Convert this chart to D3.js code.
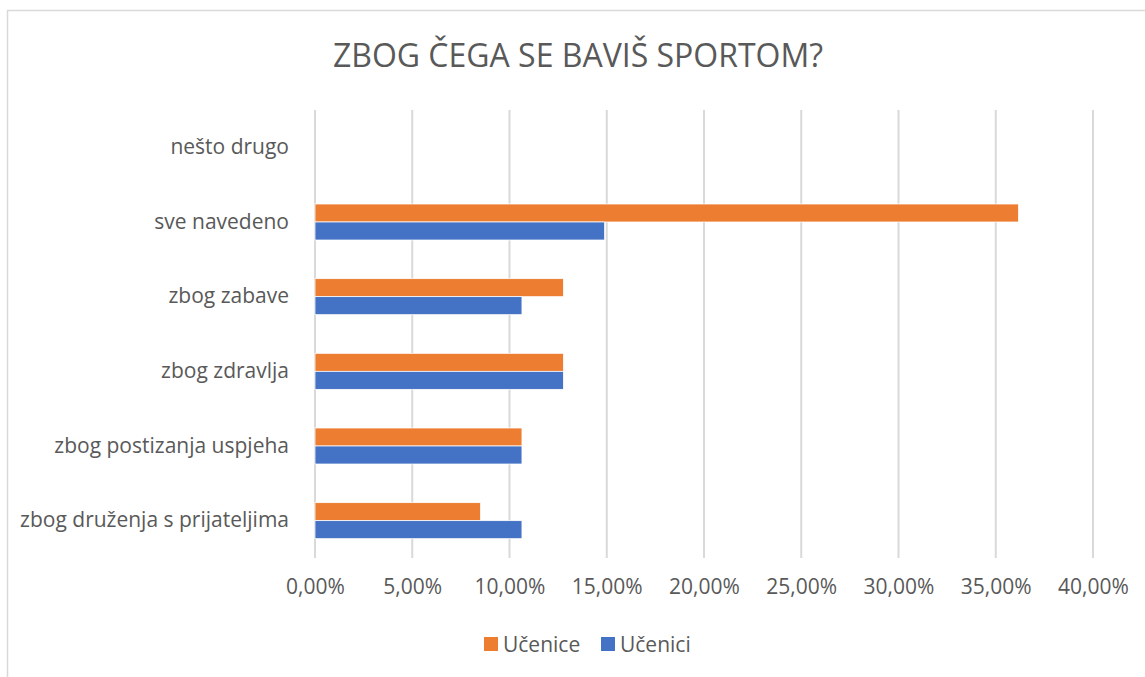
<!DOCTYPE html>
<html>
<head>
<meta charset="utf-8">
<script src="https://cdn.jsdelivr.net/npm/d3@7"></script>
<style>
  body { margin: 0; background: #fff; }
  svg text { font-family: "Open Sans", sans-serif; fill: #595959; }
</style>
</head>
<body>
<svg id="chart" width="1145" height="677"></svg>
<script>
// categories top to bottom
let categories = ['nešto drugo', 'sve navedeno', 'zbog zabave', 'zbog zdravlja',
                  'zbog postizanja uspjeha', 'zbog druženja s prijateljima'];
let seriesNames = ['Učenice', 'Učenici'];
let ucenice = [0, 0.3617, 0.1277, 0.1277, 0.1064, 0.0851];
let ucenici = [0, 0.1489, 0.1064, 0.1277, 0.1064, 0.1064];
let xTicks = [0, 0.05, 0.10, 0.15, 0.20, 0.25, 0.30, 0.35, 0.40];
let colors = ['#ed7d31', '#4472c4'];

let svg = d3.select('#chart');

// outer chart frame
svg.append('rect')
  .attr('x', 7.5).attr('y', 10.5)
  .attr('width', 1150).attr('height', 700)
  .style('fill', 'none')
  .style('stroke', '#d9d9d9')
  .style('stroke-width', '1.5px');

let plot = {left: 315, right: 1093, top: 110, bottom: 558};

let x = d3.scaleLinear().domain([0, 0.40]).range([plot.left, plot.right]);
let y = d3.scaleBand().domain(categories).range([plot.top, plot.bottom]);
let barH = 18;

// title
svg.append('text')
  .attr('x', 578).attr('y', 67)
  .attr('text-anchor', 'middle')
  .style('font-size', '32px')
  .text('ZBOG ČEGA SE BAVIŠ SPORTOM?');

// gridlines
svg.append('g')
  .selectAll('line')
  .data(xTicks)
  .enter()
  .append('line')
  .attr('x1', d => x(d)).attr('x2', d => x(d))
  .attr('y1', plot.top).attr('y2', plot.bottom)
  .style('stroke', '#d9d9d9')
  .style('stroke-width', '2px');

// x axis labels
let fmt = d => d3.format('.2f')(d * 100).replace('.', ',') + '%';
let xAxis = svg.append('g')
  .attr('transform', `translate(0,${plot.bottom})`)
  .call(d3.axisBottom(x).tickValues(xTicks).tickFormat(fmt).tickSize(0).tickPadding(21));
xAxis.select('.domain').remove();
xAxis.selectAll('text')
  .style('font-size', '21px')
  .style('fill', '#595959')
  .style('font-family', '"Open Sans", sans-serif');

// y axis labels
let yAxis = svg.append('g')
  .attr('transform', `translate(${plot.left},0)`)
  .call(d3.axisLeft(y).tickSize(0).tickPadding(26));
yAxis.select('.domain').remove();
yAxis.selectAll('text')
  .style('font-size', '21px')
  .style('fill', '#595959')
  .style('font-family', '"Open Sans", sans-serif');

// bars
let rows = categories.map((c, i) => ({cat: c, vals: [ucenice[i], ucenici[i]]}));
rows.forEach(r => {
  svg.append('g')
    .selectAll('rect')
    .data(r.vals)
    .enter()
    .append('rect')
    .attr('x', x(0))
    .attr('y', (d, i) => y(r.cat) + y.bandwidth() / 2 - barH + i * barH)
    .attr('width', d => x(d) - x(0))
    .attr('height', barH)
    .style('fill', (d, i) => colors[i])
    .style('stroke', '#fff')
    .style('stroke-width', '0.75px');
});

// legend
let legendPos = [484, 601];
let legend = svg.append('g')
  .selectAll('g')
  .data(seriesNames)
  .enter()
  .append('g')
  .attr('transform', (d, i) => `translate(${legendPos[i]},637)`);
legend.append('rect')
  .attr('width', 14).attr('height', 14)
  .style('fill', (d, i) => colors[i]);
legend.append('text')
  .attr('x', 19).attr('y', 14.5)
  .style('font-size', '21px')
  .text(d => d);
</script>
</body>
</html>
